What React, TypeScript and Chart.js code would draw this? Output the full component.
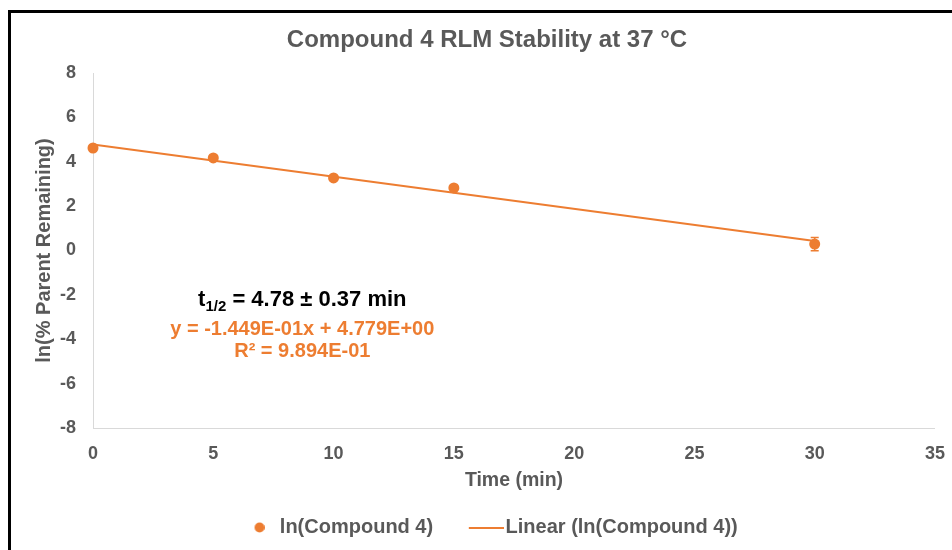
import React, { useEffect, useRef } from "react";
import { Chart, registerables } from "chart.js";

Chart.register(...registerables);

// ---- data ----
const TIME_MIN = [0, 5, 10, 15, 30];
const LN_PARENT = [4.62, 4.17, 3.27, 2.82, 0.29];
const LN_ERR = [0.03, 0.03, 0.03, 0.04, 0.3];
const TREND_X = [0, 30];
const TREND_Y = [4.779, 0.432];
const X_MIN = 0;
const X_MAX = 35;
const X_STEP = 5;
const Y_MIN = -8;
const Y_MAX = 8;
const Y_STEP = 2;

const TITLE = "Compound 4 RLM Stability at 37 °C";
const X_TITLE = "Time (min)";
const Y_TITLE = "ln(% Parent Remaining)";
const SERIES_LABEL = "ln(Compound 4)";
const TREND_LABEL = "Linear (ln(Compound 4))";
const HALF_LIFE_PARTS = ["t", "1/2", " = 4.78 ± 0.37 min"];
const EQUATION_TEXT = "y = -1.449E-01x + 4.779E+00";
const R2_TEXT = "R² = 9.894E-01";
const NOTE_X = 8.7;
const NOTE_Y = [-2.21, -3.56, -4.54];

// ---- style ----
const FONT = "'Liberation Sans', Arial, Helvetica, sans-serif";
const ORANGE = "#ED7D31";
const GRAY = "#595959";
const AXIS = "#d9d9d9";

function makeDot(): HTMLCanvasElement {
  const c = document.createElement("canvas");
  c.width = 23;
  c.height = 11;
  const g = c.getContext("2d")!;
  g.fillStyle = ORANGE;
  g.beginPath();
  g.arc(18, 5.5, 5, 0, Math.PI * 2);
  g.fill();
  return c;
}

function makeLine(): HTMLCanvasElement {
  const c = document.createElement("canvas");
  c.width = 50;
  c.height = 2;
  const g = c.getContext("2d")!;
  g.fillStyle = ORANGE;
  g.fillRect(15, 0, 35, 2);
  return c;
}

const errorBarPlugin = {
  id: "errorBars",
  beforeDatasetsDraw(chart: any) {
    const meta = chart.getDatasetMeta(0);
    const y = chart.scales.y;
    const ctx = chart.ctx;
    ctx.save();
    ctx.strokeStyle = ORANGE;
    ctx.lineWidth = 1.5;
    meta.data.forEach((pt: any, i: number) => {
      const e = LN_ERR[i];
      const t = y.getPixelForValue(LN_PARENT[i] + e);
      const b = y.getPixelForValue(LN_PARENT[i] - e);
      ctx.beginPath();
      ctx.moveTo(pt.x, t);
      ctx.lineTo(pt.x, b);
      ctx.moveTo(pt.x - 4, t);
      ctx.lineTo(pt.x + 4, t);
      ctx.moveTo(pt.x - 4, b);
      ctx.lineTo(pt.x + 4, b);
      ctx.stroke();
    });
    ctx.restore();
  },
};

const notesPlugin = {
  id: "notes",
  afterDatasetsDraw(chart: any) {
    const { ctx } = chart;
    const x = chart.scales.x;
    const y = chart.scales.y;
    const cx = x.getPixelForValue(NOTE_X);
    ctx.save();
    ctx.textBaseline = "middle";
    ctx.textAlign = "left";
    const big = `bold 22px ${FONT}`;
    const sub = `bold 15px ${FONT}`;
    ctx.font = big;
    const w1 = ctx.measureText(HALF_LIFE_PARTS[0]).width;
    const w3 = ctx.measureText(HALF_LIFE_PARTS[2]).width;
    ctx.font = sub;
    const w2 = ctx.measureText(HALF_LIFE_PARTS[1]).width;
    const left = cx - (w1 + w2 + w3) / 2;
    const cy = y.getPixelForValue(NOTE_Y[0]);
    ctx.fillStyle = "#000000";
    ctx.font = big;
    ctx.fillText(HALF_LIFE_PARTS[0], left, cy);
    ctx.font = sub;
    ctx.fillText(HALF_LIFE_PARTS[1], left + w1, cy + 7);
    ctx.font = big;
    ctx.fillText(HALF_LIFE_PARTS[2], left + w1 + w2, cy);

    ctx.textAlign = "center";
    ctx.fillStyle = ORANGE;
    ctx.font = `bold 20px ${FONT}`;
    ctx.fillText(EQUATION_TEXT, cx, y.getPixelForValue(NOTE_Y[1]));
    ctx.fillText(R2_TEXT, cx, y.getPixelForValue(NOTE_Y[2]));
    ctx.restore();
  },
};

export default function App() {
  const ref = useRef<HTMLCanvasElement | null>(null);

  useEffect(() => {
    if (!ref.current) return;
    const dot = makeDot();
    const line = makeLine();
    const chart = new Chart(ref.current, {
      type: "scatter",
      data: {
        datasets: [
          {
            label: SERIES_LABEL,
            data: TIME_MIN.map((t, i) => ({ x: t, y: LN_PARENT[i] })),
            backgroundColor: ORANGE,
            borderColor: ORANGE,
            borderWidth: 0,
            pointRadius: 5.5,
            pointStyle: "circle",
            showLine: false,
            clip: false,
          },
          {
            label: TREND_LABEL,
            data: TREND_X.map((t, i) => ({ x: t, y: TREND_Y[i] })),
            borderColor: ORANGE,
            backgroundColor: ORANGE,
            borderWidth: 2,
            pointRadius: 0,
            showLine: true,
            pointStyle: "line",
            clip: false,
          },
        ],
      },
      options: {
        responsive: false,
        animation: false,
        devicePixelRatio: 1,
        layout: { padding: { left: 14, right: 0, top: 0, bottom: 2.5 } },
        plugins: {
          tooltip: { enabled: false },
          title: {
            display: true,
            text: TITLE,
            color: GRAY,
            font: { family: FONT, size: 24, weight: "bold" },
            padding: { top: 25.6, bottom: 18.6 },
          },
          legend: {
            display: true,
            position: "bottom",
            labels: {
              usePointStyle: true,
              pointStyleWidth: 33.6,
              padding: 28.8,
              color: GRAY,
              font: { family: FONT, size: 20, weight: "bold" },
              generateLabels: (c: any) => {
                const items = (Chart as any).defaults.plugins.legend.labels.generateLabels(c);
                if (items[0]) items[0].pointStyle = dot;
                if (items[1]) items[1].pointStyle = line;
                return items;
              },
            },
          },
        },
        scales: {
          x: {
            type: "linear",
            min: X_MIN,
            max: X_MAX,
            afterFit: (s: any) => {
              s.height = 60.7;
            },
            ticks: {
              stepSize: X_STEP,
              color: GRAY,
              padding: 15,
              font: { family: FONT, size: 18, weight: "bold" },
            },
            grid: { display: false, drawTicks: false },
            border: { display: true, color: AXIS, width: 1 },
            title: {
              display: true,
              text: X_TITLE,
              color: GRAY,
              font: { family: FONT, size: 19.5, weight: "bold" },
              padding: { top: 0, bottom: -4 },
            },
          },
          y: {
            type: "linear",
            min: Y_MIN,
            max: Y_MAX,
            afterFit: (s: any) => {
              s.width = 79;
            },
            ticks: {
              stepSize: Y_STEP,
              color: GRAY,
              padding: 17,
              font: { family: FONT, size: 18, weight: "bold" },
            },
            grid: { display: false, drawTicks: false },
            border: { display: true, color: AXIS, width: 1 },
            title: {
              display: true,
              text: Y_TITLE,
              color: GRAY,
              font: { family: FONT, size: 20, weight: "bold" },
              padding: { top: 18, bottom: 0 },
            },
          },
        },
      },
      plugins: [errorBarPlugin, notesPlugin],
    } as any);
    return () => chart.destroy();
  }, []);

  return (
    <div
      style={{
        position: "fixed",
        left: 0,
        top: 0,
        width: 952,
        height: 550,
        overflow: "hidden",
        background: "#ffffff",
      }}
    >
      <div
        style={{
          position: "absolute",
          left: 8,
          top: 10,
          width: 1000,
          height: 600,
          borderTop: "3px solid #000",
          borderLeft: "3px solid #000",
          pointerEvents: "none",
        }}
      />
      <canvas
        ref={ref}
        width={960}
        height={550}
        style={{ position: "absolute", left: 0, top: 0, width: 960, height: 550 }}
      />
    </div>
  );
}
